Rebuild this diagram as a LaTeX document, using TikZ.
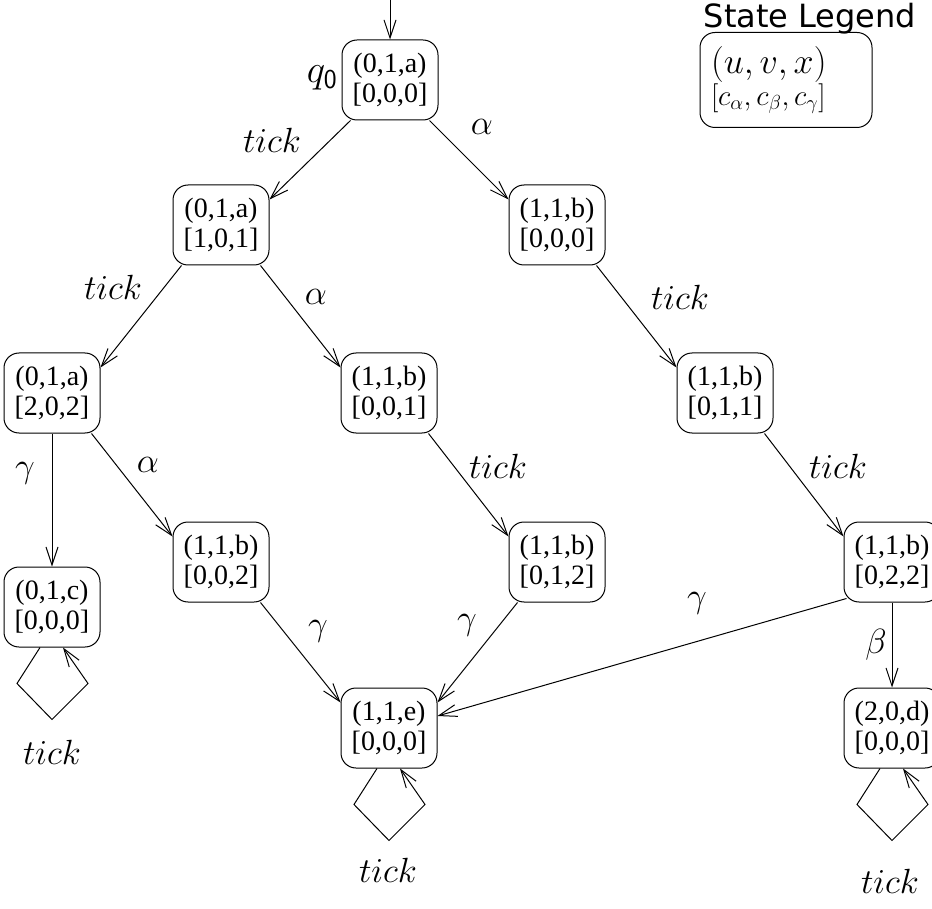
\RequirePackage{fix-cm}
\documentclass[tikz,border=0pt]{standalone}
\usepackage{fontspec}
\setmainfont{Liberation Serif}
\newfontfamily\legendfont{DejaVu Sans}
\usetikzlibrary{arrows.meta,calc}
\tikzset{
  state/.style={draw, rounded corners=15pt, minimum width=96pt, minimum height=80pt,
    line width=1pt, align=center, inner sep=0pt, font=\fontsize{28}{29.5}\selectfont},
  trans/.style={line width=1pt, -{Straight Barb[length=18pt,width=12pt,line width=1pt]}},
  lbl/.style={font=\fontsize{35}{38}\selectfont, inner sep=0pt},
}
\begin{document}
\begin{tikzpicture}[x=1pt,y=-1pt]
\fill[white] (0,0) rectangle (932,909);
\useasboundingbox (0,0) rectangle (932,909);
% states
\node[state] (n0)  at (390,80)  {(0,1,a)\\{[0,0,0]}};
\node[state] (n1)  at (221,225) {(0,1,a)\\{[1,0,1]}};
\node[state] (n2)  at (557,225) {(1,1,b)\\{[0,0,0]}};
\node[state] (n3)  at (52,393)  {(0,1,a)\\{[2,0,2]}};
\node[state] (n4)  at (389,393) {(1,1,b)\\{[0,0,1]}};
\node[state] (n5)  at (725,393) {(1,1,b)\\{[0,1,1]}};
\node[state] (n6)  at (52,607)  {(0,1,c)\\{[0,0,0]}};
\node[state] (n7)  at (221,562) {(1,1,b)\\{[0,0,2]}};
\node[state] (n8)  at (557,562) {(1,1,b)\\{[0,1,2]}};
\node[state] (n9)  at (892,562) {(1,1,b)\\{[0,2,2]}};
\node[state] (n10) at (389,728) {(1,1,e)\\{[0,0,0]}};
\node[state] (n11) at (892,728) {(2,0,d)\\{[0,0,0]}};
% legend
\node[font=\legendfont\fontsize{32}{34}\selectfont, inner sep=0pt] (legtitle) at (810,19) {State Legend};
\node[draw, rounded corners=15pt, line width=1pt, align=left, text width=150pt,
  inner xsep=11pt, minimum height=95pt] (legend) at (786,80)
  {{\fontsize{36}{37}\selectfont $(u,v,x)$}\\{\fontsize{29}{29}\selectfont $[c_\alpha,c_\beta,c_\gamma]$}};
% initial arrow
\coordinate (init) at (390,0);
\draw[trans] (init) -- (n0.north);
\node[lbl, font=\fontsize{39}{40}\selectfont] (q0) at (322,78) {$q_{\mathsf{0}}$};
% transitions
\draw[trans] ($(n0.south west)+(9,0)$) -- ($(n1.north east)+(0,15)$);
\draw[trans] ($(n0.south east)+(-9,0)$) -- ($(n2.north west)+(0,15)$);
\draw[trans] ($(n1.south west)+(9,0)$) -- ($(n3.north east)+(0,15)$);
\draw[trans] ($(n1.south east)+(-9,0)$) -- ($(n4.north west)+(0,15)$);
\draw[trans] ($(n2.south east)+(-9,0)$) -- ($(n5.north west)+(0,15)$);
\draw[trans] (n3.south) -- (n6.north);
\draw[trans] ($(n3.south east)+(-9,0)$) -- ($(n7.north west)+(0,15)$);
\draw[trans] ($(n4.south east)+(-9,0)$) -- ($(n8.north west)+(0,15)$);
\draw[trans] ($(n5.south east)+(-9,0)$) -- ($(n9.north west)+(0,15)$);
\draw[trans] ($(n7.south east)+(-9,0)$) -- ($(n10.north west)+(0,15)$);
\draw[trans] ($(n8.south west)+(9,0)$) -- ($(n10.north east)+(0,15)$);
\draw[trans] ($(n9.south west)+(3,-4)$) -- ($(n10.east)+(0,-12)$);
\draw[trans] (n9.south) -- (n11.north);
% self loops
\draw[trans] ($(n6.south)+(-12,0)$) -- ++(-23,36) -- ++(35,36) -- ++(36,-36) -- ($(n6.south)+(11,0)$);
\draw[trans] ($(n10.south)+(-12,0)$) -- ++(-23,36) -- ++(35,36) -- ++(36,-36) -- ($(n10.south)+(11,0)$);
\draw[trans] ($(n11.south)+(-12,0)$) -- ++(-23,36) -- ++(35,36) -- ++(36,-36) -- ($(n11.south)+(11,0)$);
% labels
\node[lbl] (l1)  at (272,140) {$tick$};
\node[lbl] (l2)  at (482,127) {$\alpha$};
\node[lbl] (l3)  at (113,287) {$tick$};
\node[lbl] (l4)  at (316,297) {$\alpha$};
\node[lbl] (l5)  at (680,297) {$tick$};
\node[lbl] (l6)  at (25,473)  {$\gamma$};
\node[lbl] (l7)  at (148,465) {$\alpha$};
\node[lbl] (l8)  at (498,466) {$tick$};
\node[lbl] (l9)  at (838,466) {$tick$};
\node[lbl] (l10) at (318,631) {$\gamma$};
\node[lbl] (l11) at (467,625) {$\gamma$};
\node[lbl] (l12) at (697,603) {$\gamma$};
\node[lbl] (l13) at (876,645) {$\beta$};
\node[lbl] (l14) at (52,752)  {$tick$};
\node[lbl] (l15) at (388,870) {$tick$};
\node[lbl] (l16) at (890,881) {$tick$};
\end{tikzpicture}
\end{document}
